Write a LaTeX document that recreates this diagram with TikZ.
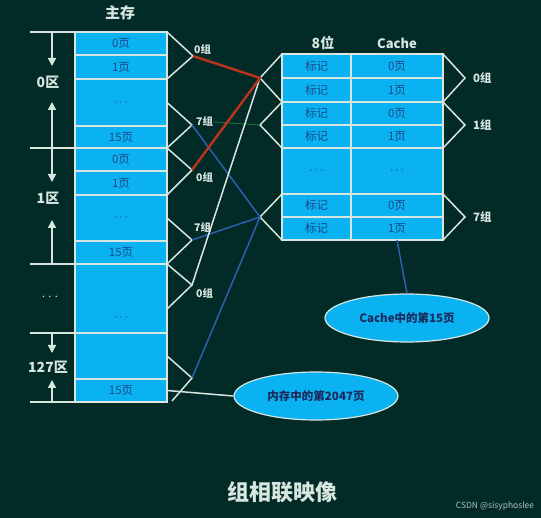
\documentclass[tikz,border=0pt]{standalone}
\usepackage{fontspec}
\setmainfont{Noto Sans CJK SC}
\usetikzlibrary{arrows.meta,shapes.geometric,calc}
\definecolor{bgteal}{HTML}{022B27}
\definecolor{cellblue}{HTML}{0AB2F2}
\definecolor{celltext}{HTML}{1A4A8A}
\definecolor{linewhite}{HTML}{D8E6E0}
\definecolor{mapred}{HTML}{B8321E}
\definecolor{mapblue}{HTML}{2E5FAE}
\definecolor{mapgreen}{HTML}{1E6A3A}
\definecolor{ovaltext}{HTML}{1B2A5A}
\newcommand{\celldots}{$\cdots$}
\tikzset{
  mcell/.style={draw=linewhite, line width=1.5pt, fill=cellblue, inner sep=0, outer sep=0,
    minimum width=92pt, text=celltext, font=\fontsize{11.5}{11.5}\selectfont},
  tcell/.style={mcell, minimum width=69pt},
  wline/.style={draw=linewhite, line width=1.5pt},
  grp/.style={text=linewhite, font=\bfseries\fontsize{10.5}{10.5}\selectfont, inner sep=0},
  zone/.style={text=linewhite, font=\bfseries\fontsize{14}{14}\selectfont, inner sep=0},
  oval/.style={ellipse, draw=linewhite, line width=1.2pt, fill=cellblue, text=ovaltext,
    minimum width=164pt, minimum height=48pt, inner sep=0, font=\bfseries\fontsize{11.5}{11.5}\selectfont},
  zarrow/.style={wline, -{Triangle[width=8pt,length=8pt]}}
}
\begin{document}
\begin{tikzpicture}[x=1pt,y=-1pt]
\fill[bgteal] (0,0) rectangle (541,518);
\useasboundingbox (0,0) rectangle (541,518);
% main memory
\node[text=linewhite, font=\bfseries\fontsize{15}{15}\selectfont] (mainhead) at (120,13) {主存};
\node[mcell, minimum height=23pt] (r0) at (121,43.5) {0页};
\node[mcell, minimum height=24pt] (r1) at (121,67) {1页};
\node[mcell, minimum height=47pt] (r2) at (121,102.5) {\celldots};
\node[mcell, minimum height=22pt] (r3) at (121,137) {15页};
\node[mcell, minimum height=23pt] (r4) at (121,159.5) {0页};
\node[mcell, minimum height=24pt] (r5) at (121,183) {1页};
\node[mcell, minimum height=46pt] (r6) at (121,218) {\celldots};
\node[mcell, minimum height=23pt] (r7) at (121,252.5) {15页};
\node[mcell, minimum height=69pt] (r8) at (121,298.5) {};
\node[text=celltext, font=\fontsize{11.5}{11.5}\selectfont] (r8t) at (121,318) {\celldots};
\node[mcell, minimum height=46pt] (r9) at (121,356) {};
\node[mcell, minimum height=23pt] (r10) at (121,390.5) {15页};
% zones
\draw[wline] (30,32) -- (r0.north west);
\draw[wline] (30,148) -- (r4.north west);
\draw[wline] (30,264) -- (r8.north west);
\draw[wline] (30,333) -- (r9.north west);
\draw[wline] (30,402) -- (r10.south west);
\node[zone] (z0) at (48,82) {0区};
\node[zone] (z1) at (48,198) {1区};
\node[zone] (z2) at (50,297) {$\cdots$};
\node[zone] (z127) at (48,367) {127区};
\draw[zarrow] (52,32) -- (52,66);
\draw[zarrow] (52,148) -- (52,102);
\draw[zarrow] (52,148) -- (52,182);
\draw[zarrow] (52,264) -- (52,220);
\draw[zarrow] (52,333) -- (52,353);
\draw[zarrow] (52,402) -- (52,380);
% cache
\node[text=linewhite, font=\bfseries\fontsize{14}{14}\selectfont] (taghead) at (323,43) {8位};
\node[text=linewhite, font=\bfseries\fontsize{13}{13}\selectfont] (cachehead) at (397,43) {Cache};
\node[tcell, minimum height=24pt] (t0) at (316.5,66) {标记};
\node[tcell, minimum height=24pt] (t1) at (316.5,90) {标记};
\node[tcell, minimum height=23pt] (t2) at (316.5,113.5) {标记};
\node[tcell, minimum height=23pt] (t3) at (316.5,136.5) {标记};
\node[tcell, minimum height=46pt] (t4) at (316.5,171) {\celldots};
\node[tcell, minimum height=23pt] (t5) at (316.5,205.5) {标记};
\node[tcell, minimum height=23pt] (t6) at (316.5,228.5) {标记};
\node[mcell, minimum height=24pt] (p0) at (397,66) {0页};
\node[mcell, minimum height=24pt] (p1) at (397,90) {1页};
\node[mcell, minimum height=23pt] (p2) at (397,113.5) {0页};
\node[mcell, minimum height=23pt] (p3) at (397,136.5) {1页};
\node[mcell, minimum height=46pt] (p4) at (397,171) {\celldots};
\node[mcell, minimum height=23pt] (p5) at (397,205.5) {0页};
\node[mcell, minimum height=23pt] (p6) at (397,228.5) {1页};
% group points
\coordinate (g00) at (193,56);
\coordinate (g07) at (192,125);
\coordinate (g10) at (192,170);
\coordinate (g17) at (192,240);
\coordinate (g20) at (192,285);
\coordinate (g20b) at (167,309);
\coordinate (g27) at (192,378);
\coordinate (g27b) at (172,401);
\coordinate (cg0) at (260,78);
\coordinate (cg1) at (260,125);
\coordinate (cg7) at (260,217);
\coordinate (cr0) at (465,78);
\coordinate (cr1) at (465,125);
\coordinate (cr7) at (465,217);
\node[grp, anchor=south west] (l00) at (194,55) {0组};
\node[grp, anchor=south west] (l07) at (196,127) {7组};
\node[grp, anchor=west] (l10) at (196,177) {0组};
\node[grp, anchor=south west] (l17) at (194,233) {7组};
\node[grp, anchor=west] (l20) at (196,293) {0组};
\node[grp, anchor=west, font=\bfseries\fontsize{11.5}{11.5}\selectfont] (lc0) at (473,78) {0组};
\node[grp, anchor=west, font=\bfseries\fontsize{11.5}{11.5}\selectfont] (lc1) at (473,125) {1组};
\node[grp, anchor=west, font=\bfseries\fontsize{11.5}{11.5}\selectfont] (lc7) at (473,217) {7组};
% brackets
\draw[wline] (r0.north east) -- (g00) -- (r1.south east);
\draw[wline] (r2.east) -- (g07) -- (r3.south east);
\draw[wline] (r4.north east) -- (g10) -- (r5.south east);
\draw[wline] (r6.east) -- (g17) -- (r7.south east);
\draw[wline] (r8.north east) -- (g20) -- (g20b);
\draw[wline] (r9.east) -- (g27) -- (g27b);
\draw[wline] (t0.north west) -- (cg0) -- (t1.south west);
\draw[wline] (t2.north west) -- (cg1) -- (t3.south west);
\draw[wline] (t5.north west) -- (cg7) -- (t6.south west);
\draw[wline] (p0.north east) -- (cr0) -- (p1.south east);
\draw[wline] (p2.north east) -- (cr1) -- (p3.south east);
\draw[wline] (p5.north east) -- (cr7) -- (p6.south east);
% mapping lines
\draw[mapgreen, line width=1pt] (l07.east) -- (cg1);
\draw[mapblue, line width=1.5pt] (g07) -- (cg7);
\draw[mapblue, line width=1.5pt] (g17) -- (cg7);
\draw[mapblue, line width=1.5pt] (g27) -- (cg7);
\draw[wline] (cg0) -- (g20);
\draw[mapred, line width=2.5pt, line join=round] (g00) -- (cg0) -- (g10);
% callouts
\node[oval] (e1) at (407,318) {Cache中的第15页};
\node[oval] (e2) at (316,396) {内存中的第2047页};
\draw[mapblue, line width=1.5pt] (p6.south) -- (e1.north);
\draw[wline] (e2.west) -- (r10.east);
% title
\node[text=linewhite, font=\bfseries\fontsize{22}{22}\selectfont] (title) at (282,492) {组相联映像};
\node[text=linewhite!80!bgteal, font=\fontsize{8.5}{8.5}\selectfont] (mark) at (495,506) {CSDN @sisyphoslee};
\end{tikzpicture}
\end{document}
